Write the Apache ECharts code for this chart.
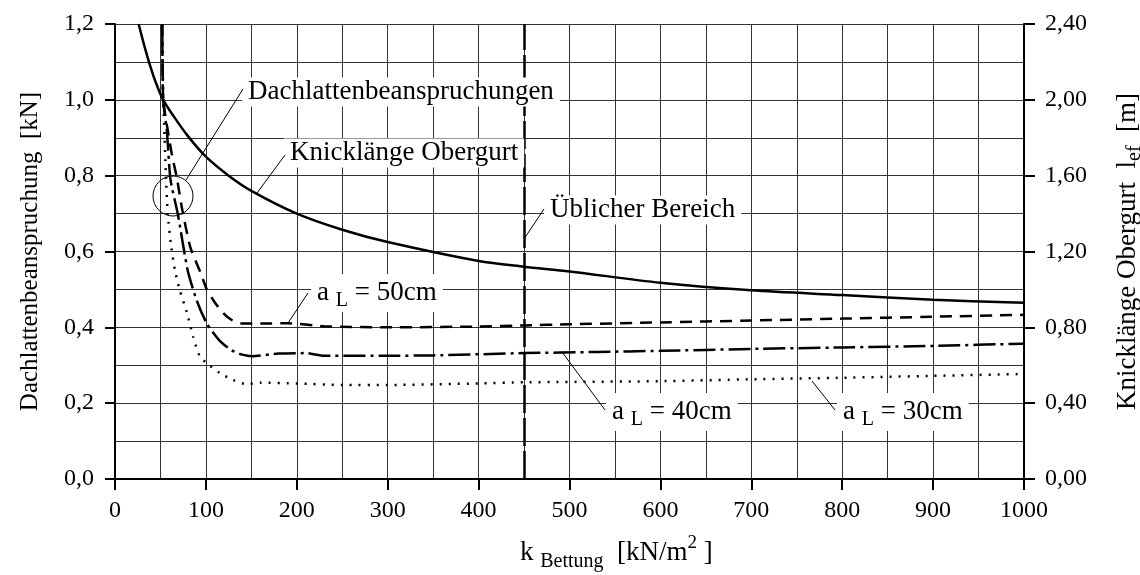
<!DOCTYPE html>
<html>
<head>
<meta charset="utf-8">
<title>Dachlattenbeanspruchung</title>
<script src="https://cdn.jsdelivr.net/npm/echarts@6/dist/echarts.min.js"></script>
<style>
  html, body { margin: 0; padding: 0; background: #fff; }
  #chart { width: 1140px; height: 575px; }
</style>
</head>
<body>
<div id="chart"></div>
<script>
// Knicklänge Obergurt l_ef [m] (rechte Achse)
const kKnick = [26, 32, 38, 45, 53, 65, 80, 100, 125, 150, 200, 250, 300, 400, 450, 500, 600, 700, 800, 900, 1000]
const lefKnick = [2.40, 2.29, 2.19, 2.09, 2.00, 1.91, 1.81, 1.70, 1.60, 1.52, 1.40, 1.315, 1.25, 1.15, 1.12, 1.095, 1.035, 0.995, 0.97, 0.945, 0.93]

// Dachlattenbeanspruchung [kN], a_L = 50cm
const k50 = [52, 53, 58, 63, 68, 74, 83, 94, 101, 110, 119, 128, 138, 160, 189, 230, 300, 400, 450, 500, 600, 700, 800, 900, 1000]
const f50 = [1.2, 1.0, 0.92, 0.85, 0.795, 0.71, 0.61, 0.545, 0.5, 0.465, 0.438, 0.42, 0.411, 0.41, 0.411, 0.403, 0.4, 0.402, 0.405, 0.408, 0.413, 0.418, 0.423, 0.428, 0.433]

// a_L = 40cm
const k40 = [52, 53, 57, 61, 69, 80, 90, 101, 115, 128, 140, 151, 180, 210, 230, 300, 350, 450, 530, 600, 700, 800, 900, 1000]
const f40 = [1.2, 1.0, 0.92, 0.79, 0.7, 0.55, 0.47, 0.41, 0.365, 0.34, 0.328, 0.324, 0.331, 0.332, 0.325, 0.325, 0.326, 0.332, 0.335, 0.338, 0.343, 0.347, 0.351, 0.357]

// a_L = 30cm
const k30 = [52, 53, 54, 56, 58, 62, 66, 71, 79, 86, 93, 101, 115, 130, 145, 160, 200, 250, 300, 400, 450, 600, 700, 800, 900, 1000]
const f30 = [1.2, 1.0, 0.94, 0.8, 0.7, 0.61, 0.55, 0.5, 0.44, 0.375, 0.325, 0.305, 0.28, 0.261, 0.25, 0.254, 0.252, 0.248, 0.248, 0.252, 0.255, 0.258, 0.263, 0.267, 0.272, 0.277]

// Üblicher Bereich
const usualK = 450

const xTicks = [0, 1000, 100]
const yLeftTicks = [0, 1.2, 0.2]
const yRightTicks = [0, 2.4, 0.4]

const serif = "'Liberation Serif', 'DejaVu Serif', serif"
const fs = 24 // Achsenbeschriftung
const fa = 27 // Anmerkungen

function pairs (ks, vs) {
  return ks.map((k, i) => [k, vs[i]])
}
function comma (v, d) {
  return v.toFixed(d).replace('.', ',')
}

// Text mit Index (tiefgestellt)
const subRich = {
  m: {fontFamily: serif, fontSize: fa, lineHeight: 30, verticalAlign: 'middle'},
  s: {fontFamily: serif, fontSize: 20, lineHeight: 36, verticalAlign: 'bottom'}
}

// Beschriftung mit weißem Hintergrund
function label (text, x, y) {
  return {
    type: 'text',
    z: 100,
    style: {
      text: text,
      x: x,
      y: y,
      align: 'left',
      verticalAlign: 'middle',
      fill: '#000',
      fontFamily: serif,
      fontSize: fa,
      backgroundColor: '#fff',
      padding: [1, 6],
      rich: subRich
    }
  }
}
function leader (x1, y1, x2, y2) {
  return {
    type: 'line',
    z: 100,
    shape: {x1: x1, y1: y1, x2: x2, y2: y2},
    style: {stroke: '#000', lineWidth: 1}
  }
}

const chart = echarts.init(document.getElementById('chart'))
const option = {
  animation: false,
  backgroundColor: '#fff',
  grid: {left: 115, right: 116, top: 24, bottom: 96, outerBoundsMode: 'none'},
  xAxis: {
    type: 'value',
    min: xTicks[0],
    max: xTicks[1],
    interval: xTicks[2],
    axisLine: {lineStyle: {color: '#000', width: 2}},
    axisTick: {length: 11, lineStyle: {color: '#000', width: 2}},
    axisLabel: {margin: 20, color: '#000', fontFamily: serif, fontSize: fs, formatter: v => String(v)},
    splitLine: {show: true, lineStyle: {color: '#333', width: 1}},
    minorTick: {show: false, splitNumber: 2},
    minorSplitLine: {show: true, lineStyle: {color: '#333', width: 1}}
  },
  yAxis: [
    {
      type: 'value',
      min: yLeftTicks[0],
      max: yLeftTicks[1],
      interval: yLeftTicks[2],
      name: 'Dachlattenbeanspruchung  [kN]',
      nameLocation: 'middle',
      nameRotate: 90,
      nameGap: 72,
      nameTextStyle: {color: '#000', fontFamily: serif, fontSize: 25},
      axisLine: {lineStyle: {color: '#000', width: 2}},
      axisTick: {length: 10, lineStyle: {color: '#000', width: 2}},
      axisLabel: {margin: 21, color: '#000', fontFamily: serif, fontSize: fs, formatter: v => comma(v, 1)},
      splitLine: {show: true, lineStyle: {color: '#333', width: 1}},
      minorTick: {show: false, splitNumber: 2},
      minorSplitLine: {show: true, lineStyle: {color: '#333', width: 1}}
    },
    {
      type: 'value',
      position: 'right',
      min: yRightTicks[0],
      max: yRightTicks[1],
      interval: yRightTicks[2],
      name: '{m|Knicklänge Obergurt  l}{s|ef}{m|  [m]}',
      nameLocation: 'middle',
      nameRotate: 90,
      nameGap: 87,
      nameTextStyle: {
        color: '#000',
        fontFamily: serif,
        fontSize: fa,
        rich: {
          m: {fontFamily: serif, fontSize: fa, lineHeight: 28, verticalAlign: 'middle'},
          s: {fontFamily: serif, fontSize: 20, lineHeight: 34, verticalAlign: 'bottom'}
        }
      },
      axisLine: {lineStyle: {color: '#000', width: 2}},
      axisTick: {length: 11, lineStyle: {color: '#000', width: 2}},
      axisLabel: {margin: 21, color: '#000', fontFamily: serif, fontSize: fs, formatter: v => comma(v, 2)},
      splitLine: {show: false}
    }
  ],
  series: [
    {
      name: 'Knicklänge Obergurt',
      type: 'line',
      yAxisIndex: 1,
      smooth: 0.3,
      symbol: 'none',
      lineStyle: {color: '#000', width: 2.5},
      data: pairs(kKnick, lefKnick),
      markLine: {
        silent: true,
        symbol: 'none',
        label: {show: false},
        lineStyle: {color: '#000', width: 2.5, type: [28, 5]},
        data: [{xAxis: usualK}]
      }
    },
    {
      name: 'a_L = 50cm',
      type: 'line',
      smooth: 0.2,
      symbol: 'none',
      lineStyle: {color: '#000', width: 2.5, type: [12, 8]},
      data: pairs(k50, f50)
    },
    {
      name: 'a_L = 40cm',
      type: 'line',
      smooth: 0.2,
      symbol: 'none',
      lineStyle: {color: '#000', width: 2.5, type: [22, 5, 3, 5]},
      data: pairs(k40, f40)
    },
    {
      name: 'a_L = 30cm',
      type: 'line',
      smooth: 0.2,
      symbol: 'none',
      lineStyle: {color: '#000', width: 2.5, type: [2, 7]},
      data: pairs(k30, f30)
    }
  ],
  graphic: [
    label('Dachlattenbeanspruchungen', 242, 92),
    leader(243, 89, 186, 180),
    {
      type: 'circle',
      z: 100,
      shape: {cx: 173, cy: 196, r: 20},
      style: {fill: 'none', stroke: '#000', lineWidth: 1}
    },
    label('Knicklänge Obergurt', 284, 153),
    leader(285, 155, 257, 193),
    label('Üblicher Bereich', 544, 210),
    leader(544, 209, 524, 239),
    label('{m|a }{s|L}{m| = 50cm}', 311, 293),
    leader(308, 293, 288, 323),
    label('{m|a }{s|L}{m| = 40cm}', 606, 412),
    leader(605, 410, 562, 352),
    label('{m|a }{s|L}{m| = 30cm}', 837, 412),
    leader(835, 410, 812, 381),
    {
      type: 'text',
      z: 100,
      style: {
        text: '{m|k }{s|Bettung}{m|  [kN/m}{p|2}{m| ]}',
        x: 520,
        y: 553,
        align: 'left',
        verticalAlign: 'middle',
        fill: '#000',
        rich: {
          m: {fontFamily: serif, fontSize: fa, lineHeight: 38, verticalAlign: 'middle'},
          s: {fontFamily: serif, fontSize: 20, lineHeight: 38, verticalAlign: 'bottom'},
          p: {fontFamily: serif, fontSize: 19, lineHeight: 38, verticalAlign: 'top'}
        }
      }
    }
  ]
}
chart.setOption(option)
</script>
</body>
</html>
